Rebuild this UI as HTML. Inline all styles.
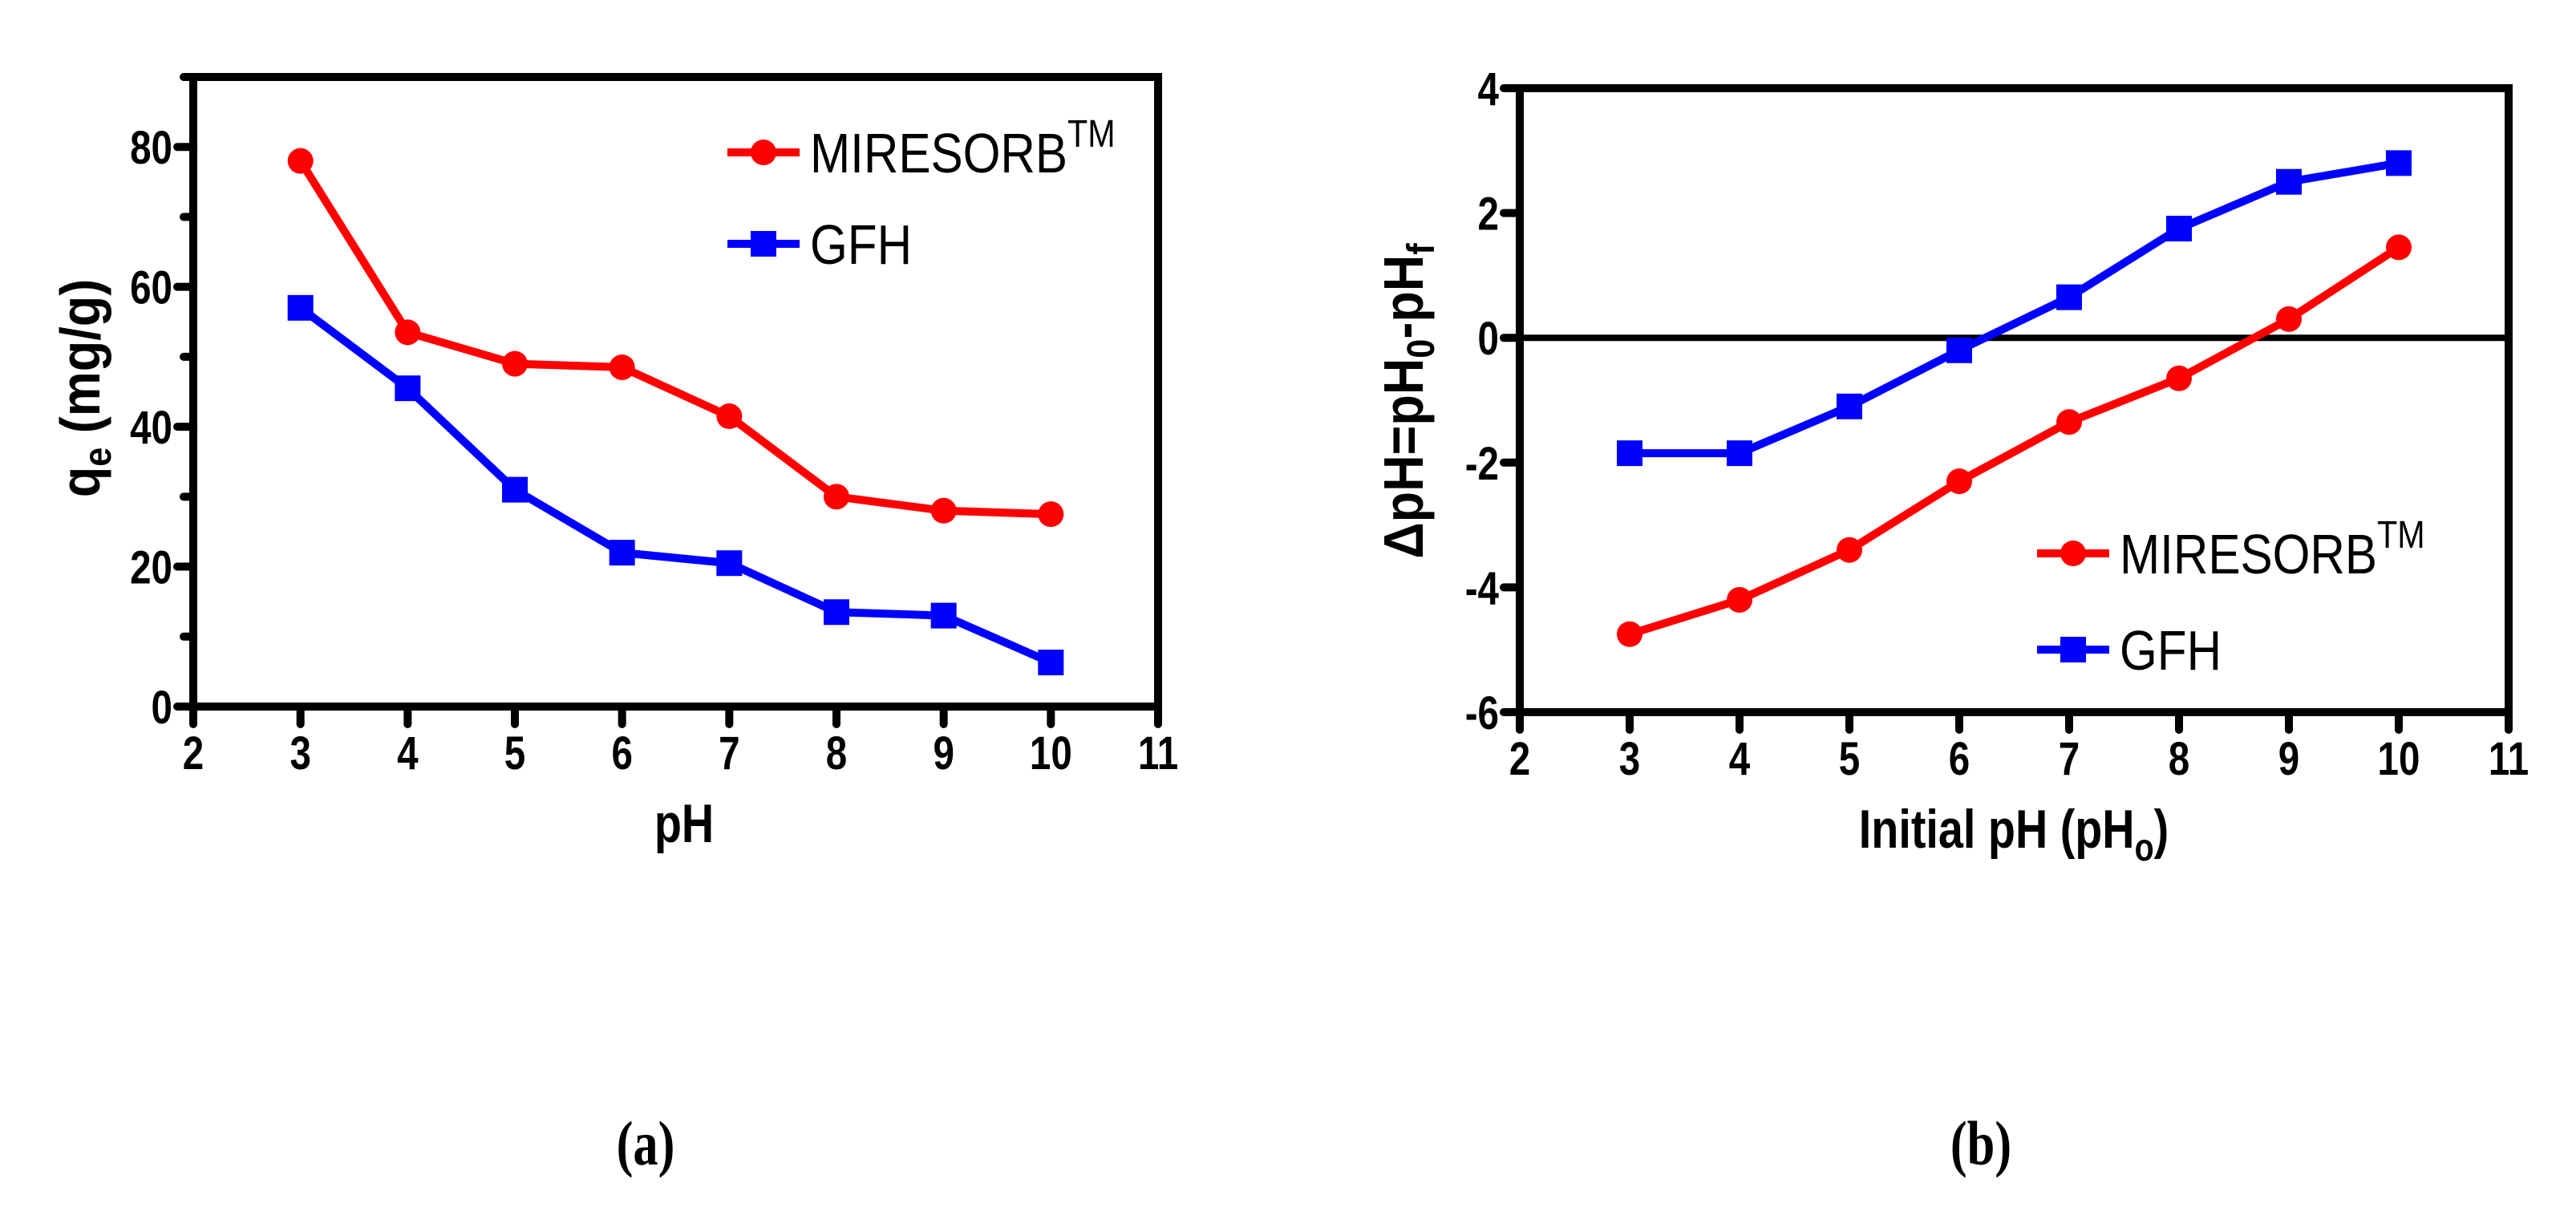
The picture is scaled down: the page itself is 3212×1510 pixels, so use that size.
<!DOCTYPE html>
<html><head><meta charset="utf-8"><style>
html,body{margin:0;padding:0;background:#fff}
svg{display:block}
.t{font-family:"Liberation Sans Narrow","Liberation Sans",sans-serif;font-weight:bold}
.n{font-family:"Liberation Sans Narrow","Liberation Sans",sans-serif}
.c{font-family:"Liberation Serif",serif;font-weight:bold}
</style></head><body>
<svg id="svg" width="3212" height="1510" viewBox="0 0 3212 1510" xmlns="http://www.w3.org/2000/svg">
<g id="ga"></g>
<g id="gb"></g>
<text class="c" font-size="78" text-anchor="middle" transform="translate(805,1452) scale(0.8,1)">(a)</text>
<text class="c" font-size="78" text-anchor="middle" transform="translate(2470,1452) scale(0.8,1)">(b)</text>
</svg>
<script>
const xTicks = [2,3,4,5,6,7,8,9,10,11];
const phValues = [3,4,5,6,7,8,9,10];
const aMiresorb = [78,53.5,49,48.5,41.5,30,28,27.5];
const aGfh = [57,45.5,31,22,20.5,13.5,13,6.3];
const aYTicks = [0,20,40,60,80];
const aYMinor = [10,30,50,70,90];
const bMiresorb = [-4.75,-4.2,-3.4,-2.3,-1.35,-0.65,0.3,1.45];
const bGfh = [-1.85,-1.85,-1.1,-0.2,0.65,1.75,2.5,2.8];
const bYTicks = [-6,-4,-2,0,2,4];

const NS='http://www.w3.org/2000/svg';
function mk(parent,tag,attrs,name,text){
  const e=document.createElementNS(NS,tag);
  for(const k in attrs)e.setAttribute(k,attrs[k]);
  
  
  if(text!==undefined)e.textContent=text;
  parent.appendChild(e);return e;
}
function txt(parent,x,y,attrs,name,text,rot,sx){
  attrs.transform='translate('+x+','+y+')'+(rot?' rotate(-90)':'')+' scale('+(sx||0.82)+',1)';
  return mk(parent,'text',attrs,name,text);
}
function chart(g,cfg){
  const X=v=>cfg.x0+(v-2)*(cfg.x1-cfg.x0)/9;
  const Y=v=>cfg.yb+(v-cfg.ymin)*(cfg.yt-cfg.yb)/(cfg.ymax-cfg.ymin);
  mk(g,'rect',{x:cfg.x0,y:cfg.yt,width:cfg.x1-cfg.x0,height:cfg.yb-cfg.yt,fill:'none',stroke:'#000','stroke-width':10},'plot-frame');
  xTicks.forEach(v=>{
    mk(g,'line',{x1:X(v),x2:X(v),y1:cfg.yb,y2:cfg.yb+22,stroke:'#000','stroke-width':10,'stroke-linecap':'round'},'x-tick');
    txt(g,X(v),cfg.yb+78,{'font-size':58,'text-anchor':'middle',class:'t'},'x-tick-label',String(v));
  });
  cfg.yTicks.forEach(v=>{
    mk(g,'line',{x1:cfg.x0-20,x2:cfg.x0,y1:Y(v),y2:Y(v),stroke:'#000','stroke-width':10,'stroke-linecap':'round'},'y-tick');
    txt(g,cfg.x0-26,Y(v)+21,{'font-size':58,'text-anchor':'end',class:'t'},'y-tick-label',String(v));
  });
  (cfg.yMinor||[]).forEach(v=>{
    mk(g,'line',{x1:cfg.x0-12,x2:cfg.x0,y1:Y(v),y2:Y(v),stroke:'#000','stroke-width':10,'stroke-linecap':'round'},'y-minor-tick');
  });
  if(cfg.zero){
    mk(g,'line',{x1:cfg.x0,x2:cfg.x1,y1:Y(0),y2:Y(0),stroke:'#000','stroke-width':8},'zero-line');
  }
  const series=[[cfg.red,'#ff0000','miresorb'],[cfg.blue,'#0000ff','gfh']];
  series.forEach(([d,col,nm])=>{
    const pts=d.map((v,i)=>X(phValues[i])+','+Y(v)).join(' ');
    mk(g,'polyline',{points:pts,fill:'none',stroke:col,'stroke-width':10,'stroke-linejoin':'round'},nm+'-line');
    d.forEach((v,i)=>{
      if(nm==='miresorb')mk(g,'circle',{cx:X(phValues[i]),cy:Y(v),r:16,fill:col},nm+'-point');
      else mk(g,'rect',{x:X(phValues[i])-16,y:Y(v)-16,width:32,height:32,fill:col},nm+'-point');
    });
  });
  const L=cfg.leg;
  mk(g,'line',{x1:L.x,x2:L.x+90,y1:L.y1,y2:L.y1,stroke:'#ff0000','stroke-width':10},'legend-miresorb-line');
  mk(g,'circle',{cx:L.x+45,cy:L.y1,r:16,fill:'#ff0000'},'legend-miresorb-marker');
  const t1=txt(g,L.x+103,L.y1+25,{'font-size':70,class:'n'},'legend-miresorb-label','MIRESORB',false,0.86);
  const sup=document.createElementNS(NS,'tspan');sup.setAttribute('dy','-32');sup.setAttribute('font-size','48');sup.textContent='TM';t1.appendChild(sup);
  mk(g,'line',{x1:L.x,x2:L.x+90,y1:L.y2,y2:L.y2,stroke:'#0000ff','stroke-width':10},'legend-gfh-line');
  mk(g,'rect',{x:L.x+29,y:L.y2-16,width:32,height:32,fill:'#0000ff'},'legend-gfh-marker');
  txt(g,L.x+103,L.y2+25,{'font-size':70,class:'n'},'legend-gfh-label','GFH',false,0.86);
}
chart(document.getElementById('ga'),{x0:241,x1:1444,yt:96,yb:881,ymin:0,ymax:90,yTicks:aYTicks,yMinor:aYMinor,red:aMiresorb,blue:aGfh,leg:{x:907,y1:190,y2:304}});
chart(document.getElementById('gb'),{x0:1895,x1:3128,yt:110,yb:888,ymin:-6,ymax:4,yTicks:bYTicks,zero:true,red:bMiresorb,blue:bGfh,leg:{x:2540,y1:690,y2:810}});

const svg=document.getElementById('svg');
txt(svg,853,1050,{'font-size':68,'text-anchor':'middle',class:'t'},'x-axis-title-a','pH');
const ya=txt(svg,124,484,{'font-size':70,'text-anchor':'middle',class:'t'},'y-axis-title-a','',true,0.9);
ya.innerHTML='q<tspan dy="14" font-size="48">e</tspan><tspan dy="-14"> (mg/g)</tspan>';
const xb=txt(svg,2511,1057,{'font-size':68,'text-anchor':'middle',class:'t'},'x-axis-title-b','');
xb.innerHTML='Initial pH (pH<tspan dy="16" font-size="48">o</tspan><tspan dy="-16">)</tspan>';
const yb=txt(svg,1774,500,{'font-size':70,'text-anchor':'middle',class:'t'},'y-axis-title-b','',true,0.9);
yb.innerHTML='ΔpH=pH<tspan dy="14" font-size="48">0</tspan><tspan dy="-14">-pH</tspan><tspan dy="14" font-size="48">f</tspan>';
</script>
</body></html>
